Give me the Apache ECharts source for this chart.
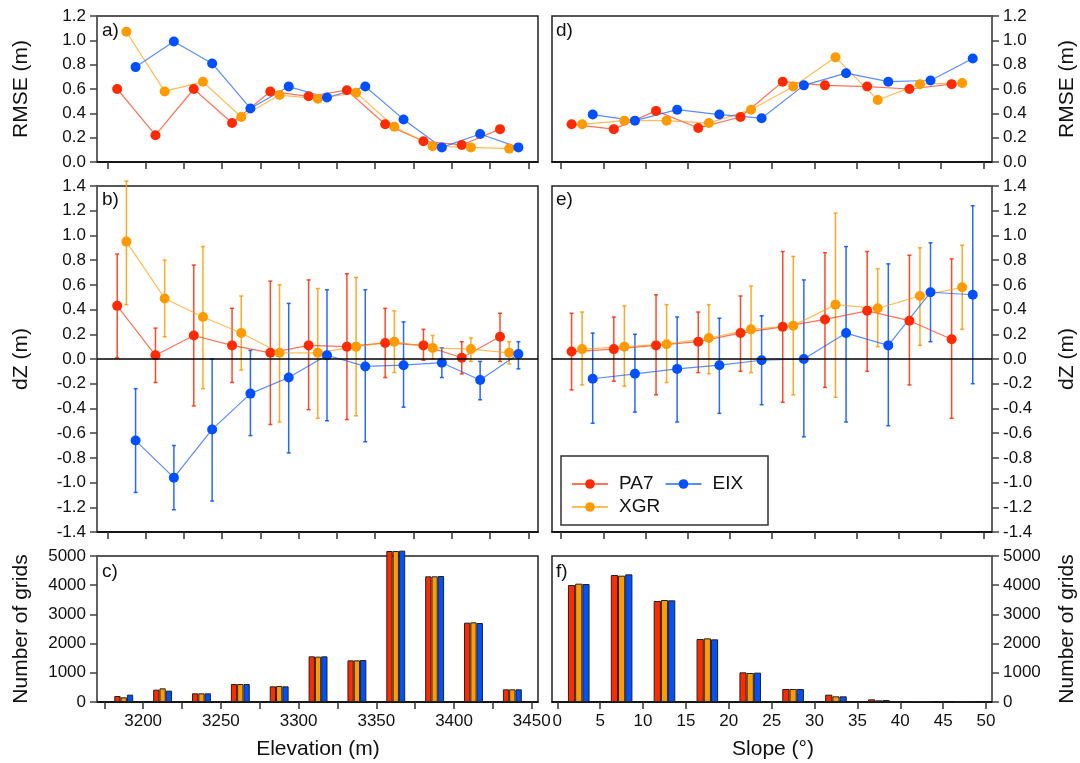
<!DOCTYPE html>
<html>
<head>
<meta charset="utf-8">
<title>Elevation / slope error analysis</title>
<script src="https://cdn.jsdelivr.net/npm/echarts@6/dist/echarts.min.js"></script>
<style>
html, body { margin: 0; padding: 0; background: #fff; }
#main { width: 1080px; height: 763px; }
</style>
</head>
<body>
<div id="main"></div>
<script>
// bin centres
var elevBins = [3187.5, 3212.5, 3237.5, 3262.5, 3287.5, 3312.5, 3337.5, 3362.5, 3387.5, 3412.5, 3437.5];
var slopeBins = [2.5, 7.5, 12.5, 17.5, 22.5, 27.5, 32.5, 37.5, 42.5, 47.5];

// a) RMSE vs elevation
var rmseElevPA7 = [0.60, 0.22, 0.60, 0.32, 0.58, 0.54, 0.59, 0.31, 0.17, 0.14, 0.27];
var rmseElevXGR = [1.07, 0.58, 0.66, 0.37, 0.55, 0.52, 0.57, 0.29, 0.13, 0.12, 0.11];
var rmseElevEIX = [0.78, 0.99, 0.81, 0.44, 0.62, 0.53, 0.62, 0.35, 0.12, 0.23, 0.12];

// d) RMSE vs slope
var rmseSlopePA7 = [0.31, 0.27, 0.42, 0.28, 0.37, 0.66, 0.63, 0.62, 0.60, 0.64];
var rmseSlopeXGR = [0.31, 0.34, 0.34, 0.32, 0.43, 0.62, 0.86, 0.51, 0.64, 0.65];
var rmseSlopeEIX = [0.39, 0.34, 0.43, 0.39, 0.36, 0.63, 0.73, 0.66, 0.67, 0.85];

// b) dZ vs elevation: mean, lower, upper
var dzElevPA7 = [0.43, 0.03, 0.19, 0.11, 0.05, 0.11, 0.10, 0.13, 0.11, 0.01, 0.18];
var dzElevPA7Lo = [0.01, -0.19, -0.38, -0.19, -0.53, -0.41, -0.49, -0.15, -0.01, -0.12, -0.02];
var dzElevPA7Hi = [0.85, 0.25, 0.76, 0.41, 0.63, 0.64, 0.69, 0.41, 0.24, 0.14, 0.37];
var dzElevXGR = [0.95, 0.49, 0.34, 0.21, 0.05, 0.05, 0.10, 0.14, 0.09, 0.08, 0.05];
var dzElevXGRLo = [0.44, 0.18, -0.24, -0.09, -0.51, -0.48, -0.46, -0.11, 0.00, -0.02, -0.04];
var dzElevXGRHi = [1.44, 0.80, 0.91, 0.51, 0.60, 0.57, 0.66, 0.39, 0.19, 0.17, 0.14];
var dzElevEIX = [-0.66, -0.96, -0.57, -0.28, -0.15, 0.03, -0.06, -0.05, -0.03, -0.17, 0.04];
var dzElevEIXLo = [-1.08, -1.22, -1.15, -0.62, -0.76, -0.50, -0.67, -0.39, -0.15, -0.33, -0.08];
var dzElevEIXHi = [-0.24, -0.70, 0.00, 0.07, 0.45, 0.56, 0.56, 0.30, 0.09, -0.02, 0.14];

// e) dZ vs slope
var dzSlopePA7 = [0.06, 0.08, 0.11, 0.14, 0.21, 0.26, 0.32, 0.39, 0.31, 0.16];
var dzSlopePA7Lo = [-0.25, -0.18, -0.29, -0.11, -0.10, -0.35, -0.23, -0.10, -0.21, -0.48];
var dzSlopePA7Hi = [0.37, 0.34, 0.52, 0.38, 0.51, 0.87, 0.86, 0.87, 0.84, 0.81];
var dzSlopeXGR = [0.08, 0.10, 0.12, 0.17, 0.24, 0.27, 0.44, 0.41, 0.51, 0.58];
var dzSlopeXGRLo = [-0.21, -0.22, -0.19, -0.12, -0.11, -0.29, -0.31, 0.10, 0.11, 0.24];
var dzSlopeXGRHi = [0.38, 0.43, 0.44, 0.44, 0.59, 0.83, 1.18, 0.73, 0.90, 0.92];
var dzSlopeEIX = [-0.16, -0.12, -0.08, -0.05, -0.01, 0.00, 0.21, 0.11, 0.54, 0.52];
var dzSlopeEIXLo = [-0.52, -0.43, -0.51, -0.44, -0.37, -0.63, -0.51, -0.54, 0.14, -0.20];
var dzSlopeEIXHi = [0.21, 0.20, 0.34, 0.33, 0.35, 0.64, 0.91, 0.77, 0.94, 1.24];

// c) / f) number of grids
var countElevPA7 = [205, 422, 297, 616, 537, 1564, 1427, 5171, 4304, 2717, 434];
var countElevXGR = [160, 468, 297, 616, 548, 1553, 1427, 5171, 4304, 2728, 434];
var countElevEIX = [251, 388, 297, 616, 537, 1564, 1438, 5183, 4315, 2705, 434];
var countSlopePA7 = [4007, 4349, 3459, 2158, 1016, 445, 251, 91, 34, 10];
var countSlopeXGR = [4053, 4326, 3493, 2180, 993, 445, 194, 57, 20, 8];
var countSlopeEIX = [4041, 4372, 3482, 2146, 1005, 445, 194, 68, 25, 8];

// tick values
var elevTicks = [3175, 3200, 3225, 3250, 3275, 3300, 3325, 3350, 3375, 3400, 3425, 3450];
var elevLabels = [3200, 3250, 3300, 3350, 3400, 3450];
var slopeTicks = [0, 5, 10, 15, 20, 25, 30, 35, 40, 45, 50];

var RED = '#ff2a00', ORANGE = '#ff9a00', BLUE = '#0050ff';
var FONT = '"Liberation Sans", Arial, sans-serif';

var dom = document.getElementById('main');
var myChart = echarts.init(dom, null, { renderer: 'canvas' });

function pts(xs, ys, shift) {
    return xs.map(function (x, i) { return [x + shift, ys[i]]; });
}
function errs(xs, lo, hi, shift) {
    return xs.map(function (x, i) { return [x + shift, lo[i], hi[i]]; });
}
function bars(xs, ys) {
    return xs.map(function (x, i) { return [x, ys[i]]; });
}

function xAx(g, min, max, ticks, labels) {
    return {
        type: 'value', gridIndex: g, min: min, max: max,
        axisLine: { show: true, onZero: false, lineStyle: { color: '#000', width: 1.5 } },
        axisTick: { show: true, length: 7, customValues: ticks, lineStyle: { color: '#333', width: 1.5 } },
        axisLabel: labels ? {
            show: true, customValues: labels, margin: 11, fontSize: 17, color: '#111', fontFamily: FONT,
            formatter: function (v) { return String(v); }
        } : { show: false },
        splitLine: { show: false }
    };
}
function yAx(g, pos, min, max, step, dec) {
    return {
        type: 'value', gridIndex: g, position: pos, min: min, max: max, interval: step,
        axisLine: { show: true, onZero: false, lineStyle: { color: '#666', width: 1.5 } },
        axisTick: { show: true, length: 7, lineStyle: { color: '#444', width: 1.5 } },
        axisLabel: {
            show: true, margin: 11, fontSize: 17, color: '#111', fontFamily: FONT,
            formatter: function (v) { return v.toFixed(dec); }
        },
        splitLine: { show: false }
    };
}

function lineS(name, color, xi, data) {
    return {
        name: name, type: 'line', xAxisIndex: xi, yAxisIndex: xi, data: data,
        symbol: 'circle', symbolSize: 10, z: 3,
        itemStyle: { color: color },
        lineStyle: { color: color, width: 1.2, opacity: 0.65 },
        animation: false
    };
}
function errS(name, color, xi, data) {
    return {
        name: name, type: 'custom', xAxisIndex: xi, yAxisIndex: xi, data: data, z: 2,
        encode: { x: 0, y: [1, 2] },
        renderItem: function (params, api) {
            var x = api.value(0);
            var p1 = api.coord([x, api.value(2)]);
            var p2 = api.coord([x, api.value(1)]);
            var st = { stroke: color, lineWidth: 1.5, opacity: 0.85 };
            return {
                type: 'group', children: [
                    { type: 'line', shape: { x1: p1[0], y1: p1[1], x2: p2[0], y2: p2[1] }, style: st },
                    { type: 'line', shape: { x1: p1[0] - 2, y1: p1[1], x2: p1[0] + 2, y2: p1[1] }, style: st },
                    { type: 'line', shape: { x1: p2[0] - 2, y1: p2[1], x2: p2[0] + 2, y2: p2[1] }, style: st }
                ]
            };
        },
        animation: false
    };
}
function barS(name, color, xi, data, w) {
    return {
        name: name, type: 'bar', xAxisIndex: xi, yAxisIndex: xi, data: data,
        barWidth: w, barGap: '0%', clip: false,
        itemStyle: { color: color, borderColor: '#222', borderWidth: 1 },
        animation: false
    };
}
var zeroLine = {
    silent: true, symbol: ['none', 'none'], label: { show: false },
    lineStyle: { color: '#000', width: 1.5, type: 'solid' },
    data: [{ yAxis: 0 }], animation: false
};

var gridBase = { show: true, borderColor: '#222', borderWidth: 1.5, backgroundColor: 'transparent', containLabel: false, outerBoundsMode: 'none' };
function grid(l, t, w, h) { return Object.assign({ left: l, top: t, width: w, height: h }, gridBase); }

var dE = 6, dS = 1.25;   // horizontal dodge of the three products

var sb = lineS('PA7', RED, 1, pts(elevBins, dzElevPA7, -dE));
sb.markLine = zeroLine;
var se = lineS('PA7', RED, 4, pts(slopeBins, dzSlopePA7, -dS));
se.markLine = zeroLine;

function txt(x, y, s, size, rot) {
    return {
        type: 'text', x: x, y: y, rotation: rot || 0, z: 10,
        style: { text: s, fontSize: size, fontFamily: FONT, fill: '#111', align: 'center', verticalAlign: 'middle' }
    };
}
function lbl(x, y, s) {
    return {
        type: 'text', x: x, y: y, z: 10,
        style: { text: s, fontSize: 19, fontFamily: FONT, fill: '#111', align: 'left', verticalAlign: 'middle' }
    };
}
function leg(top, names) {
    return {
        left: 566, top: top, orient: 'horizontal',
        itemWidth: 36, itemHeight: 12, itemGap: 11,
        data: names,
        textStyle: { fontSize: 19, color: '#111', fontFamily: FONT, padding: [0, 0, 0, 6], lineHeight: 20 },
        z: 12
    };
}

var option = {
    backgroundColor: '#ffffff',
    animation: false,
    grid: [
        grid(97, 16, 441, 146),
        grid(97, 186, 441, 346),
        grid(97, 556, 441, 146),
        grid(552, 16, 440, 146),
        grid(552, 186, 440, 346),
        grid(552, 556, 440, 146)
    ],
    xAxis: [
        xAx(0, 3168.3, 3456.3, elevTicks, null),
        xAx(1, 3168.3, 3456.3, elevTicks, null),
        xAx(2, 3170.3, 3454, elevTicks, elevLabels),
        xAx(3, -1.07, 51.03, slopeTicks, null),
        xAx(4, -1.07, 51.03, slopeTicks, null),
        xAx(5, -0.62, 50.7, slopeTicks, slopeTicks)
    ],
    yAxis: [
        yAx(0, 'left', 0, 1.2, 0.2, 1),
        yAx(1, 'left', -1.4, 1.4, 0.2, 1),
        yAx(2, 'left', 0, 5000, 1000, 0),
        yAx(3, 'right', 0, 1.2, 0.2, 1),
        yAx(4, 'right', -1.4, 1.4, 0.2, 1),
        yAx(5, 'right', 0, 5000, 1000, 0)
    ],
    legend: [leg(469, ['PA7', 'EIX']), leg(492, ['XGR'])],
    graphic: [
        { type: 'rect', shape: { x: 561, y: 456, width: 207, height: 69 }, style: { fill: '#fff', stroke: '#333', lineWidth: 1.5 }, z: 11 },
        lbl(102, 31, 'a)'), lbl(102, 200, 'b)'), lbl(102, 572, 'c)'),
        lbl(556, 31, 'd)'), lbl(556, 200, 'e)'), lbl(556, 572, 'f)'),
        txt(21, 89, 'RMSE (m)', 21, Math.PI / 2),
        txt(21, 359, 'dZ (m)', 21, Math.PI / 2),
        txt(21, 629, 'Number of grids', 21, Math.PI / 2),
        txt(1067, 89, 'RMSE (m)', 21, Math.PI / 2),
        txt(1067, 359, 'dZ (m)', 21, Math.PI / 2),
        txt(1067, 629, 'Number of grids', 21, Math.PI / 2),
        txt(318, 749, 'Elevation (m)', 21, 0),
        txt(773, 749, 'Slope (°)', 21, 0)
    ],
    series: [
        // a)
        lineS('PA7', RED, 0, pts(elevBins, rmseElevPA7, -dE)),
        lineS('XGR', ORANGE, 0, pts(elevBins, rmseElevXGR, 0)),
        lineS('EIX', BLUE, 0, pts(elevBins, rmseElevEIX, dE)),
        // b)
        errS('PA7', RED, 1, errs(elevBins, dzElevPA7Lo, dzElevPA7Hi, -dE)),
        errS('XGR', ORANGE, 1, errs(elevBins, dzElevXGRLo, dzElevXGRHi, 0)),
        errS('EIX', BLUE, 1, errs(elevBins, dzElevEIXLo, dzElevEIXHi, dE)),
        sb,
        lineS('XGR', ORANGE, 1, pts(elevBins, dzElevXGR, 0)),
        lineS('EIX', BLUE, 1, pts(elevBins, dzElevEIX, dE)),
        // c)
        barS('PA7', RED, 2, bars(elevBins, countElevPA7), 6.3),
        barS('XGR', ORANGE, 2, bars(elevBins, countElevXGR), 6.3),
        barS('EIX', BLUE, 2, bars(elevBins, countElevEIX), 6.3),
        // d)
        lineS('PA7', RED, 3, pts(slopeBins, rmseSlopePA7, -dS)),
        lineS('XGR', ORANGE, 3, pts(slopeBins, rmseSlopeXGR, 0)),
        lineS('EIX', BLUE, 3, pts(slopeBins, rmseSlopeEIX, dS)),
        // e)
        errS('PA7', RED, 4, errs(slopeBins, dzSlopePA7Lo, dzSlopePA7Hi, -dS)),
        errS('XGR', ORANGE, 4, errs(slopeBins, dzSlopeXGRLo, dzSlopeXGRHi, 0)),
        errS('EIX', BLUE, 4, errs(slopeBins, dzSlopeEIXLo, dzSlopeEIXHi, dS)),
        se,
        lineS('XGR', ORANGE, 4, pts(slopeBins, dzSlopeXGR, 0)),
        lineS('EIX', BLUE, 4, pts(slopeBins, dzSlopeEIX, dS)),
        // f)
        barS('PA7', RED, 5, bars(slopeBins, countSlopePA7), 7.2),
        barS('XGR', ORANGE, 5, bars(slopeBins, countSlopeXGR), 7.2),
        barS('EIX', BLUE, 5, bars(slopeBins, countSlopeEIX), 7.2)
    ]
};

if (option && typeof option === 'object') {
    myChart.setOption(option, true);
}
</script>
</body>
</html>
